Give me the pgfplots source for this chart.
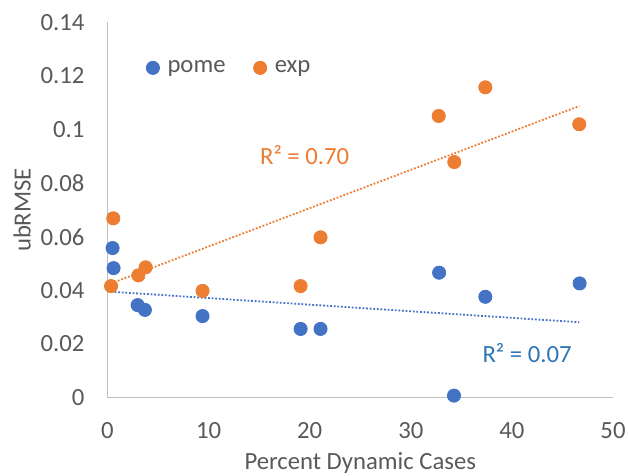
\documentclass[border=0pt]{standalone}
\usepackage{fontspec}
\setmainfont{Carlito}
\usepackage{pgfplots}
\pgfplotsset{compat=1.18}
\definecolor{xblue}{HTML}{4472C4}
\definecolor{xorange}{HTML}{ED7D31}
\definecolor{xgray}{HTML}{595959}
\definecolor{xaxis}{HTML}{BFBFBF}
\definecolor{xlblue}{HTML}{2E75B6}
\begin{document}
\begin{tikzpicture}
\begin{axis}[name=ax, scale only axis, width=252.75bp, height=187.5bp,
  xmin=0, xmax=50, ymin=0, ymax=0.14,
  axis x line*=bottom, axis y line*=left,
  axis line style={xaxis, line width=0.75bp, -},
  xtick={0,10,20,30,40,50}, xticklabels={0,10,20,30,40,50},
  ytick={0,0.02,0.04,0.06,0.08,0.1,0.12,0.14},
  yticklabels={0,0.02,0.04,0.06,0.08,0.1,0.12,0.14},
  major tick length=0pt, tick style={draw=none},
  ticklabel style={font=\fontsize{12.4}{14}\selectfont, text=xgray},
  yticklabel style={xshift=-8bp},
  xticklabel style={yshift=-9bp},
  label style={font=\fontsize{12.4}{14}\selectfont, text=xgray},
  xlabel={Percent Dynamic Cases},
  xlabel style={at={(axis description cs:0.5,-0.174)}, anchor=center},
  ylabel={ubRMSE},
  ylabel style={at={(axis description cs:-0.169,0.5)}, anchor=center, rotate=0},
  legend columns=2,
  legend style={at={(axis description cs:0.076,0.879)}, anchor=west, draw=none, fill=none,
    font=\fontsize{12.4}{14}\selectfont, text=xgray, inner xsep=0pt,
    nodes={inner xsep=0pt},
    /tikz/every odd column/.append style={column sep=4bp},
    /tikz/every even column/.append style={column sep=14bp}},
  legend image code/.code={\draw[mark repeat=2,mark phase=2,#1] plot coordinates {(0bp,0bp) (3.3bp,0bp) (6.6bp,0bp)};},
  clip=false,
]
\addplot[only marks, mark=*, mark size=3.3bp, xblue, mark options={fill=xblue, draw=xblue}] coordinates {
 (0.5,0.0558) (0.6,0.0483) (2.98,0.0345) (3.7,0.0327) (9.4,0.0304)
 (19.1,0.0256) (21.07,0.0256) (32.8,0.0466) (34.27,0.0007) (37.37,0.0376) (46.7,0.0426)};
\addlegendentry{pome}
\addplot[only marks, mark=*, mark size=3.3bp, xorange, mark options={fill=xorange, draw=xorange}] coordinates {
 (0.57,0.0669) (0.35,0.0416) (3.05,0.0456) (3.77,0.0486) (9.4,0.0398)
 (19.1,0.0416) (21.07,0.0598) (32.76,0.1051) (34.3,0.0879) (37.37,0.1158) (46.66,0.1020)};
\addlegendentry{exp}
\addplot[forget plot, xblue, line width=0.9bp, dash pattern=on 0.9bp off 0.9bp] coordinates {(0.35,0.0395) (46.66,0.0281)};
\addplot[forget plot, xorange, line width=0.9bp, dash pattern=on 0.9bp off 0.9bp] coordinates {(0.35,0.0426) (46.66,0.1088)};
\node[text=xorange, font=\fontsize{12.4}{14}\selectfont] at (axis cs:19.5,0.0905) {R² = 0.70};
\node[text=xlblue, font=\fontsize{12.4}{14}\selectfont] at (axis cs:41.5,0.0166) {R² = 0.07};
\end{axis}
\pgfresetboundingbox
\path (ax.south west) ++(-53.75bp,-38.75bp) coordinate (bl);
\path (ax.north east) ++(7.5bp,11.25bp) coordinate (tr);
\path[use as bounding box] (bl) rectangle (tr);
\end{tikzpicture}
\end{document}
